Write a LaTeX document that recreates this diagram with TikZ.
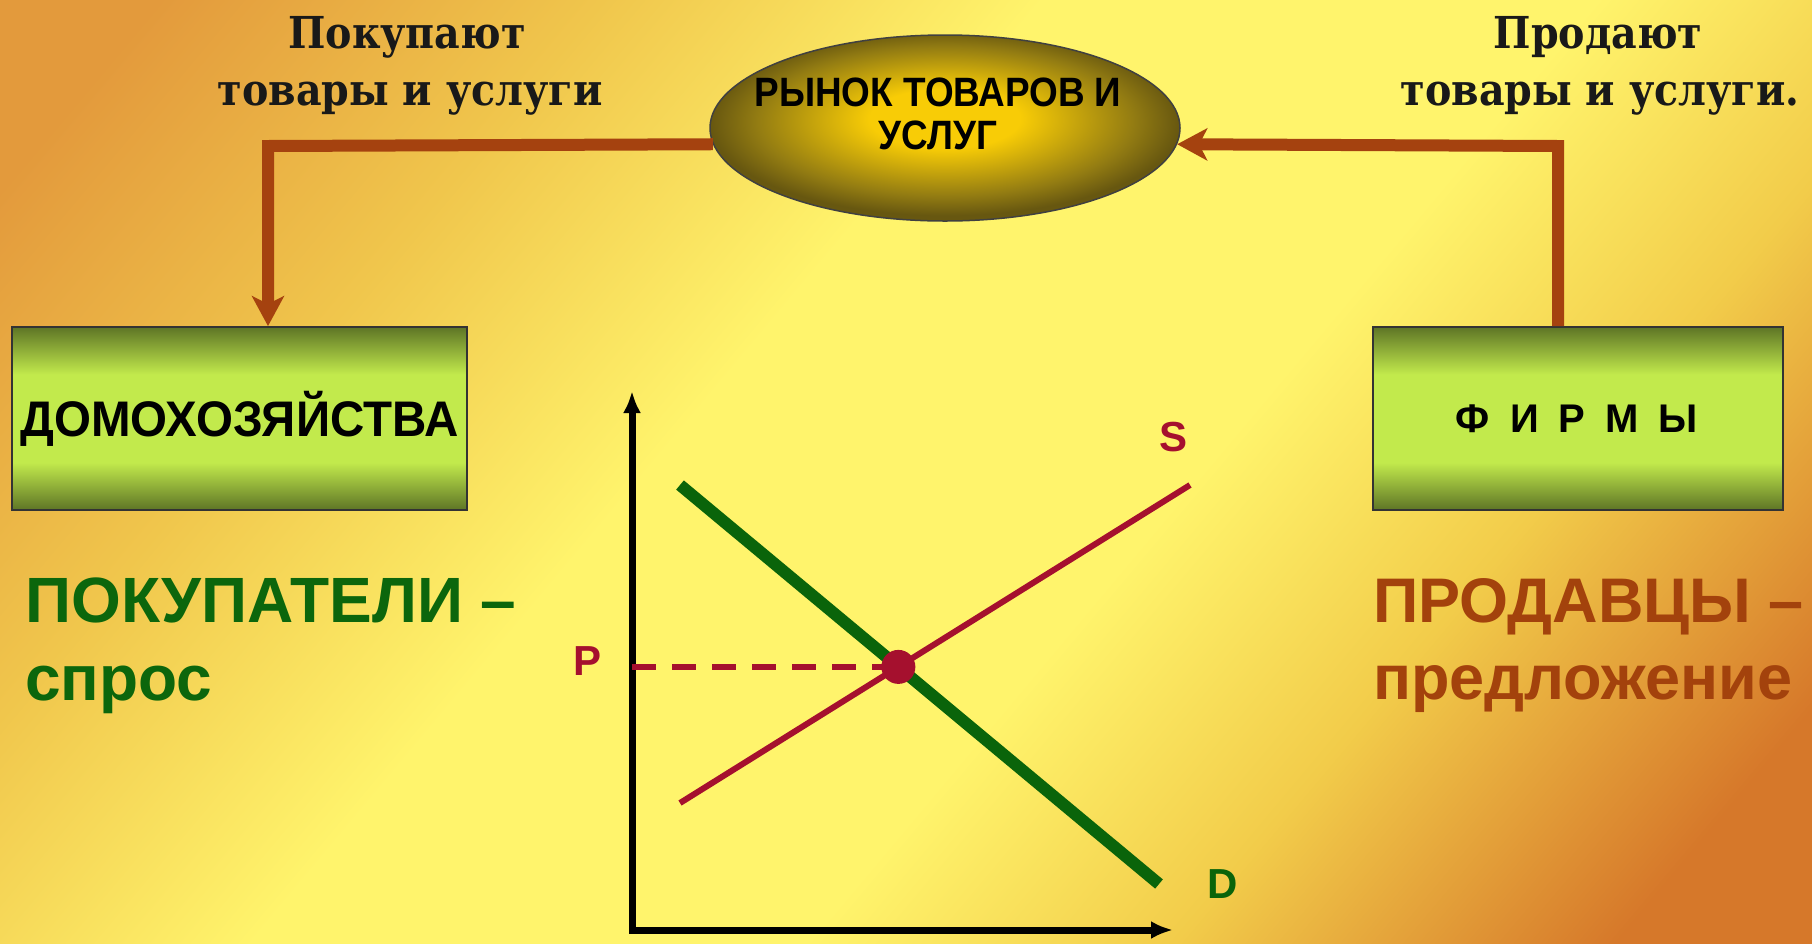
\documentclass[tikz,border=0pt]{standalone}
\usepackage{fontspec}
\setmainfont{DejaVu Serif}
\setsansfont{Liberation Sans}
\newfontfamily\topfont[FakeStretch=0.9]{DejaVu Serif}
\newfontfamily\condsans[FakeStretch=0.9]{Liberation Sans}
\newfontfamily\boxsans[FakeStretch=0.95]{Liberation Sans}
\usetikzlibrary{arrows.meta,shapes.geometric,calc}
\definecolor{bgA}{HTML}{E39A3C}
\definecolor{bgB}{HTML}{F0C64C}
\definecolor{bgC}{HTML}{FFF46C}
\definecolor{bgD}{HTML}{F2CC4A}
\definecolor{bgE}{HTML}{D6782A}
\definecolor{mktA}{HTML}{F8CC06}
\definecolor{mktB}{HTML}{937C12}
\definecolor{mktC}{HTML}{675710}
\definecolor{bxD}{HTML}{5E7526}
\definecolor{bxL}{HTML}{C2EA4C}
\definecolor{flowc}{HTML}{A5420F}
\definecolor{greent}{HTML}{0C660C}
\definecolor{brownt}{HTML}{A3420C}
\definecolor{supc}{HTML}{A5102E}
\definecolor{demc}{HTML}{0A640A}
\pgfdeclarehorizontalshading{bgshade}{100bp}{color(0bp)=(bgA); color(19bp)=(bgA); color(31bp)=(bgB); color(43bp)=(bgC); color(58bp)=(bgC); color(68bp)=(bgD); color(80bp)=(bgE); color(100bp)=(bgE)}
\pgfdeclareradialshading{mktshade}{\pgfpoint{0bp}{3bp}}{color(0bp)=(mktA); color(8bp)=(mktA); color(20bp)=(mktB); color(25bp)=(mktC); color(50bp)=(mktC)}
\pgfdeclareverticalshading{boxshade}{100bp}{color(0bp)=(bxD); color(25bp)=(bxD); color(38bp)=(bxL); color(62bp)=(bxL); color(75bp)=(bxD); color(100bp)=(bxD)}
\begin{document}
\begin{tikzpicture}[x=1pt,y=-1pt,
  marketshape/.style={ellipse, draw=black!75, line width=1.5pt, shading=mktshade, minimum width=470pt, minimum height=186pt, inner sep=0pt},
  mkttext/.style={font=\condsans\bfseries\fontsize{41}{43}\selectfont, align=center, inner sep=0pt, text=black},
  boxnode/.style={rectangle, draw=black!80, line width=1.8pt, shading=boxshade, minimum height=183pt, inner sep=0pt},
  flow/.style={draw=flowc, line width=12pt, line join=miter, -{Stealth[length=30pt,width=32pt,inset=8pt]}},
  topt/.style={font=\topfont\bfseries\fontsize{44}{52}\selectfont, text=black!90, inner sep=0pt, anchor=base},
  sidegreen/.style={font=\sffamily\bfseries\fontsize{64}{70}\selectfont, text=greent, inner sep=0pt, anchor=base west},
  sidebrown/.style={font=\sffamily\bfseries\fontsize{63}{70}\selectfont, text=brownt, inner sep=0pt, anchor=base west},
  axisline/.style={draw=black, line width=7pt, {Latex[length=22pt,width=18pt]}-{Latex[length=22pt,width=18pt]}},
  supline/.style={draw=supc, line width=6pt},
  demline/.style={draw=demc, line width=12pt},
  pdash/.style={draw=supc, line width=6pt, dash pattern=on 24pt off 16pt},
  eqdot/.style={circle, fill=supc, minimum size=34pt, inner sep=0pt},
  chartlbl/.style={font=\sffamily\bfseries\fontsize{42}{50}\selectfont, inner sep=0pt}]
\path[use as bounding box, shading=bgshade, shading angle=-40] (0,0) rectangle (1812,943);

% market
\node[marketshape] (market) at (945,128) {};
\node[mkttext] (mkt) at (938,114) {РЫНОК ТОВАРОВ И\\УСЛУГ};

% boxes
\node[boxnode, minimum width=455pt] (house) at (239.5,418.5) {};
\node[font=\boxsans\bfseries\fontsize{50}{56}\selectfont, inner sep=0pt] (houset) at (house.center) {ДОМОХОЗЯЙСТВА};
\node[boxnode, minimum width=410pt] (firms) at (1578,418.5) {};
\node[font=\sffamily\bfseries\fontsize{40}{44}\selectfont, inner sep=0pt] (firmst) at (1577,418.5) {Ф\hspace{20pt}И\hspace{20pt}Р\hspace{20pt}М\hspace{20pt}Ы};

% flows
\coordinate (lc) at (268,146);
\coordinate (rc) at (1558,146);
\draw[flow] (market.184.5) -- (lc) -- (house.north -| lc);
\draw[flow] (firms.north -| rc) -- (rc) -- (market.-4.5);

% top texts
\node[topt] (buy1) at (407,48) {Покупают};
\node[topt] (buy2) at (410,105) {товары и услуги};
\node[topt] (sell1) at (1598,48) {Продают};
\node[topt] (sell2) at (1600,105) {товары и услуги.};

% side labels
\node[sidegreen] (buyers) at (25,622) {ПОКУПАТЕЛИ –};
\node[sidegreen] (dem) at (25,700) {спрос};
\node[sidebrown] (sellers) at (1373,622) {ПРОДАВЦЫ –};
\node[sidebrown] (sup) at (1373,699) {предложение};

% chart
\coordinate (O) at (632,930);
\coordinate (Ytop) at (632,391);
\coordinate (Xend) at (1173,930);
\coordinate (d1) at (680,485);
\coordinate (d2) at (1159,884);
\coordinate (s1) at (680,803);
\coordinate (s2) at (1190,485);
\coordinate (E) at (intersection of d1--d2 and s1--s2);
\draw[axisline] (Ytop) -- (O) -- (Xend);
\draw[supline] (s1) -- (s2);
\draw[demline] (d1) -- (d2);
\draw[pdash] (O |- E) -- (E);
\node[eqdot] (eq) at (E) {};
\node[chartlbl, text=supc] (plab) at (587,661) {P};
\node[chartlbl, text=supc] (slab) at (1173,437) {S};
\node[chartlbl, text=demc] (dlab) at (1223,884) {D};
\end{tikzpicture}
\end{document}
